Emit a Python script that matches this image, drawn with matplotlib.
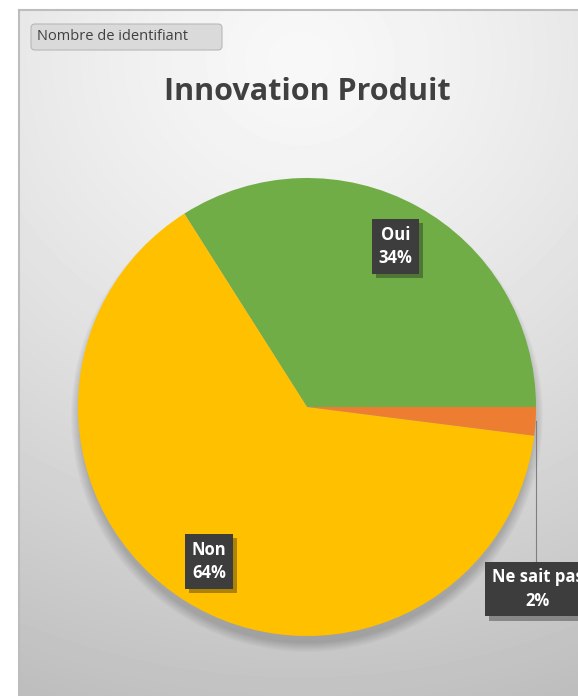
import numpy as np
import matplotlib
matplotlib.use("Agg")
import matplotlib.pyplot as plt
import matplotlib.patheffects as pe
from matplotlib.patches import FancyBboxPatch, Circle

plt.rcParams["font.family"] = ["Open Sans", "DejaVu Sans"]

# ---------------------------------------------------------------------
# Data
# ---------------------------------------------------------------------
title = "Innovation Produit"
field_button = "Nombre de identifiant"
labels = ["Oui", "Non", "Ne sait pas"]
values = [34, 64, 2]
colors = ["#70AD47", "#FFC000", "#ED7D31"]

# ---------------------------------------------------------------------
# Figure in pixel units (y up)
# ---------------------------------------------------------------------
W, H = 578, 696
fig = plt.figure(figsize=(W / 100, H / 100), dpi=100)
fig.patch.set_facecolor("white")
ax = fig.add_axes([0, 0, 1, 1])
ax.axis("off")

# chart area background: soft radial grey gradient
x0, ytop = 19, H - 10
gx, gy = np.meshgrid(np.arange(x0, W), np.arange(0, ytop))
d = np.hypot((gx - 300) / 1.1, (gy - (H - 60)))
shade = np.clip(248 - 52 * (d / 620) ** 1.3, 190, 250) / 255
ax.imshow(shade[::-1], extent=[x0, W, 0, ytop], cmap="gray", vmin=0, vmax=1,
          zorder=0, interpolation="bilinear")
ax.plot([x0, W], [ytop, ytop], color="#BDBDBD", lw=1.5, zorder=1)
ax.plot([x0, x0], [0, ytop], color="#BDBDBD", lw=1.5, zorder=1)

# field button
ax.add_patch(FancyBboxPatch((31, H - 50), 191, 26,
                            boxstyle="round,pad=0,rounding_size=4",
                            fc="#DADADA", ec="#B8B8B8", lw=0.8, zorder=2))
ax.text(37, H - 37, field_button, fontsize=10.5, color="#404040",
        va="center", ha="left", zorder=3)

# title
ax.text(307, H - 92, title, fontsize=22, fontweight="bold", color="#404040",
        ha="center", va="center", zorder=3)

# pie with a soft shadow underneath
cx, cy, R = 307, H - 407, 229
for k in range(10):
    ax.add_patch(Circle((cx, cy - 9), R - 2 + k, fc="black", ec="none",
                        alpha=0.018, zorder=2))
wedges, _ = ax.pie(values, colors=colors, startangle=0, counterclock=True,
                   center=(cx, cy), radius=R, wedgeprops=dict(lw=0))
for w in wedges:
    w.set_zorder(3)
ax.set_xlim(0, W)
ax.set_ylim(0, H)
ax.set_aspect("auto")


def put_label(x, y, s):
    t = ax.text(x, y, s, color="white", fontsize=12, fontweight="bold",
                ha="center", va="center", linespacing=1.4, zorder=5,
                bbox=dict(boxstyle="square,pad=0.4", fc="#3D3D3D", ec="none"))
    t.get_bbox_patch().set_path_effects(
        [pe.SimplePatchShadow(offset=(3, -3), alpha=0.35), pe.Normal()])


total = sum(values)
start = 0.0
for lab, v in zip(labels, values):
    mid = np.deg2rad(start + 360 * v / total / 2)
    start += 360 * v / total
    txt = f"{lab}\n{v}%"
    if v / total > 0.1:
        put_label(cx + 0.8 * R * np.cos(mid), cy + 0.8 * R * np.sin(mid), txt)
    else:
        ex, ey = cx + R * np.cos(mid), cy + R * np.sin(mid)
        ax.plot([ex, ex], [ey, H - 561], color="#7F7F7F", lw=0.8, zorder=4)
        put_label(ex + 2, H - 589, txt)

fig.savefig("out.png", dpi=100)
